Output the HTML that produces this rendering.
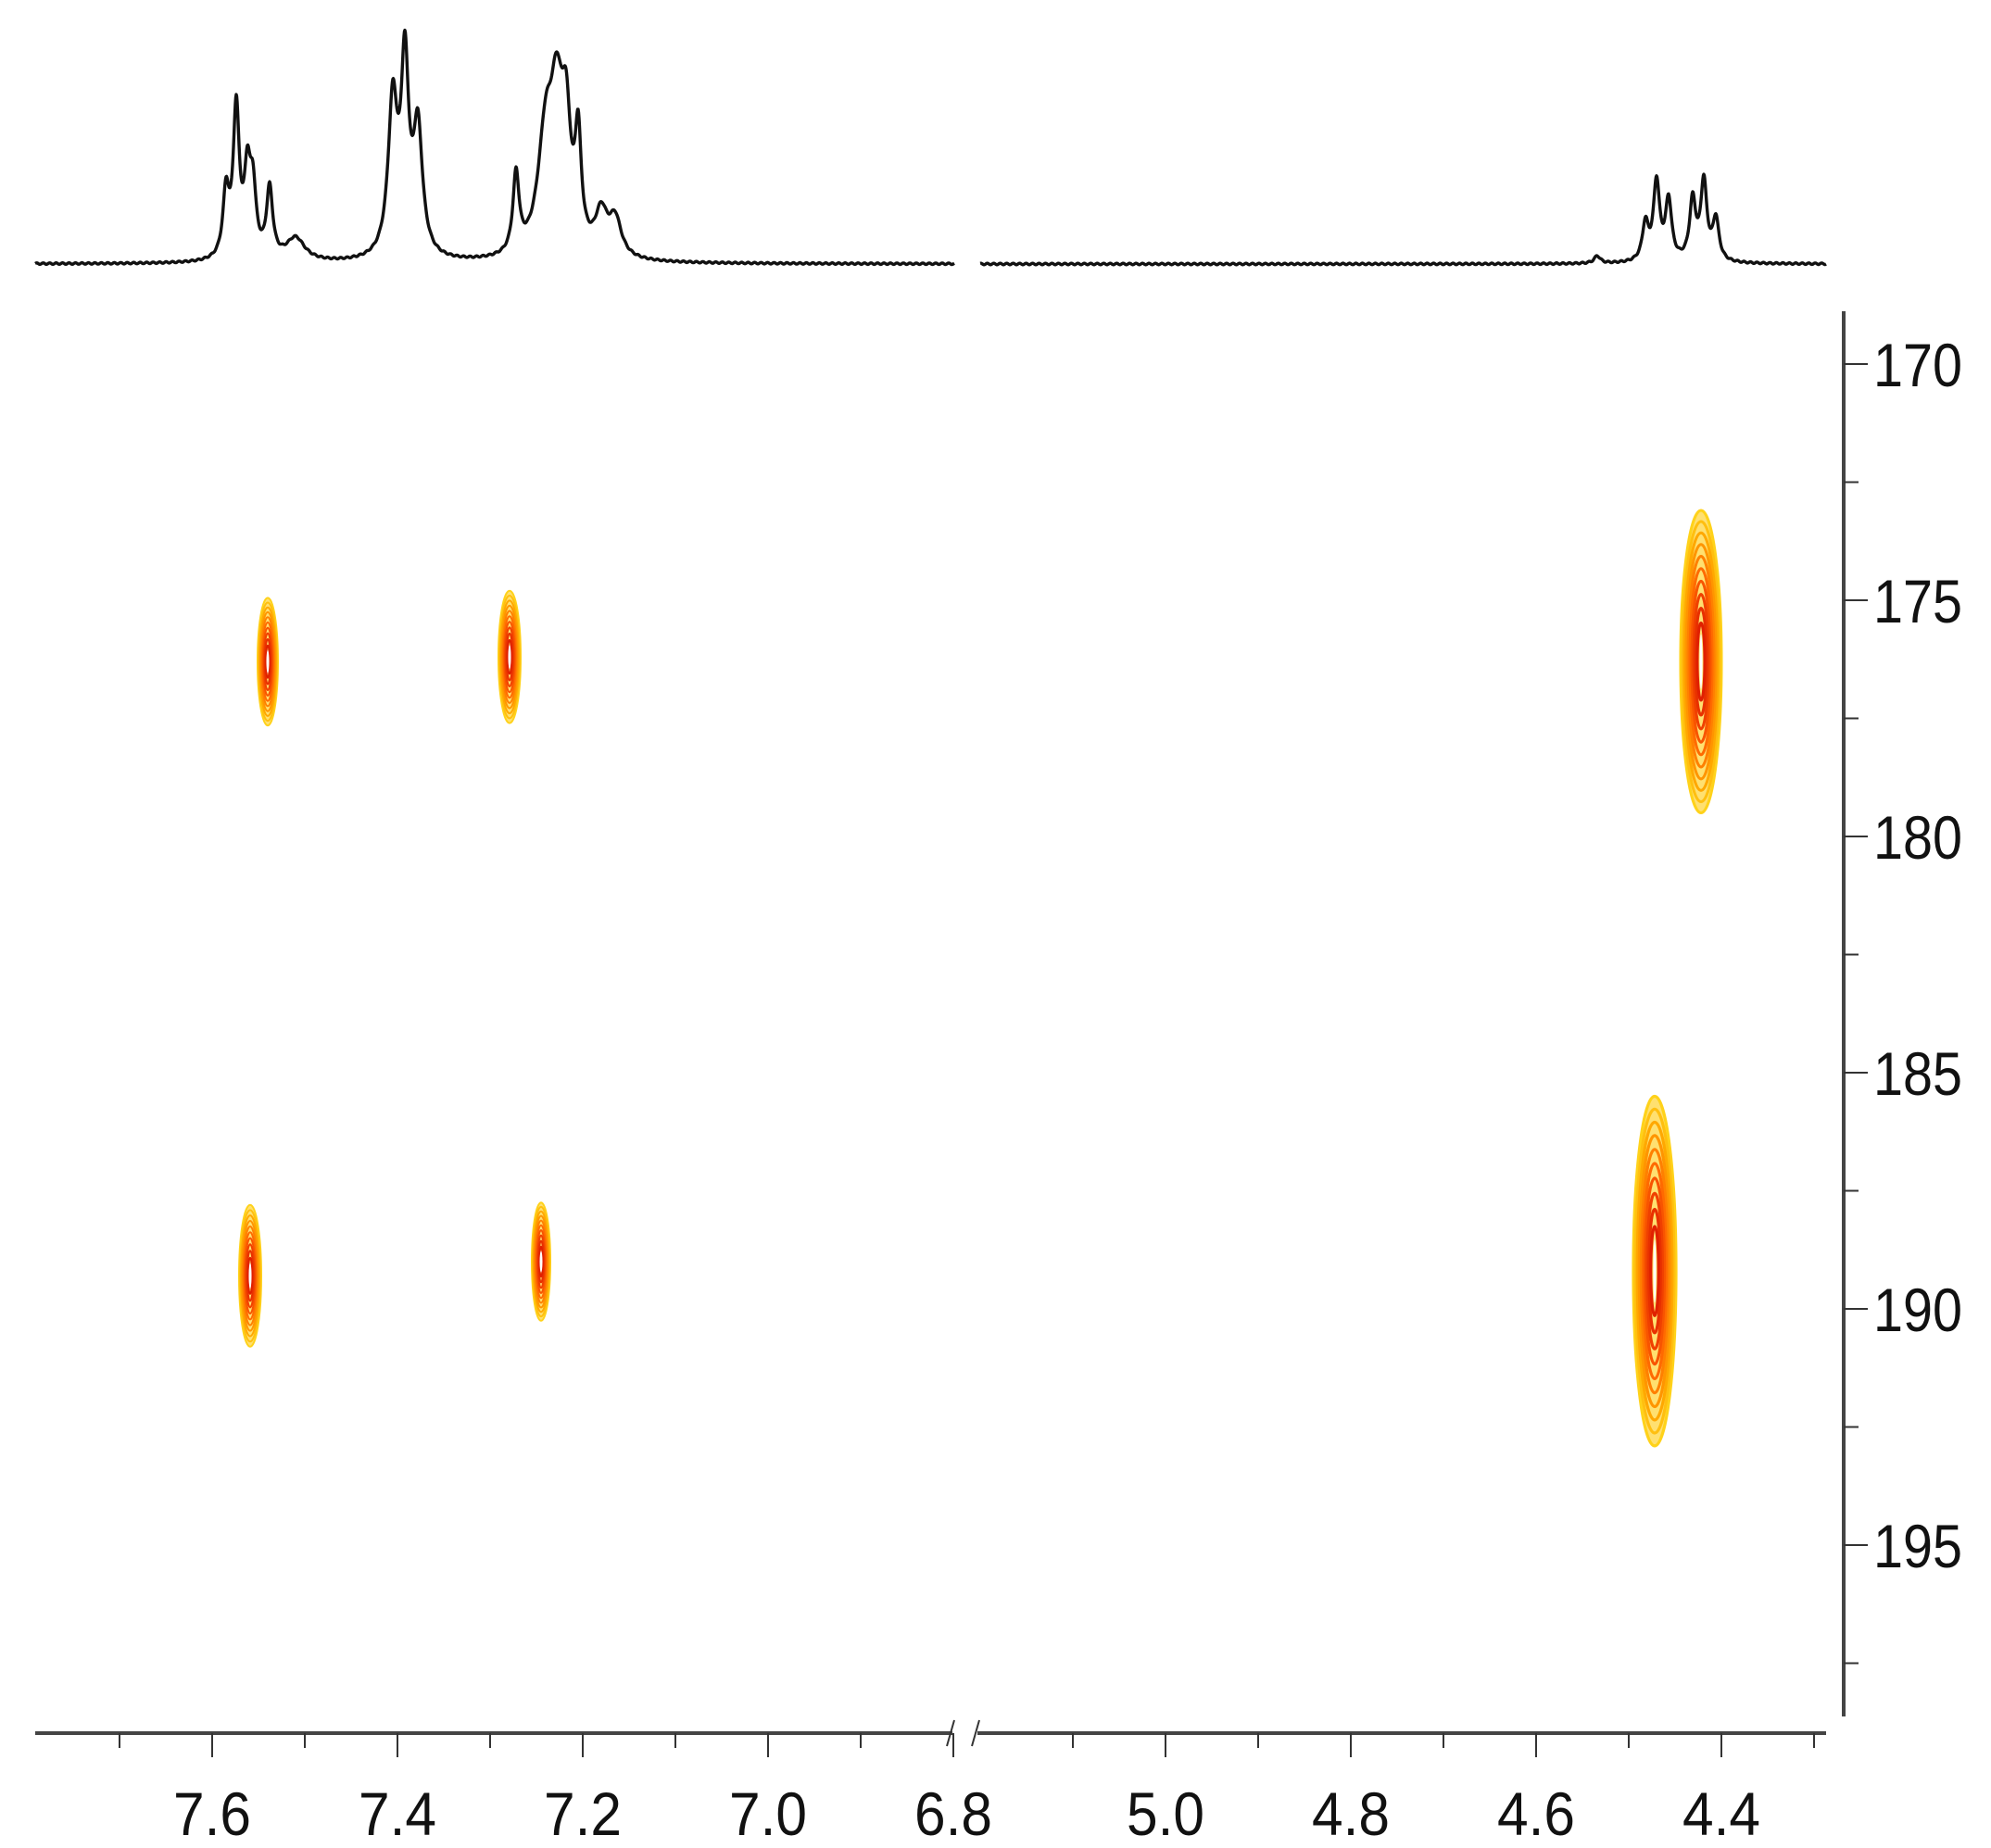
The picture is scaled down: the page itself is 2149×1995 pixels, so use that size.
<!DOCTYPE html>
<html><head><meta charset="utf-8"><style>
html,body{margin:0;padding:0;background:#fff;}
svg{display:block;}
text{font-family:"Liberation Sans",sans-serif;fill:#111;}
</style></head>
<body>
<svg id="chart" width="2149" height="1995" viewBox="0 0 2149 1995" xmlns="http://www.w3.org/2000/svg">
<g id="spec"></g>
<g id="contours"></g>
<g id="xaxis"></g>
<g id="yaxis"></g>
</svg>
<script>
// 1H spectrum lines (ppm, height px, half-width ppm)
const specPpm = [7.585,7.574,7.562,7.556,7.538,7.51,7.405,7.392,7.378,7.272,7.24,7.228,7.218,7.205,7.18,7.165,4.534,4.482,4.470,4.457,4.431,4.419,4.406];
const specHeight = [70,160,85,70,75,25,165,200,135,85,125,140,120,115,45,40,8,40,85,65,65,85,45];
const specWidth = [0.004,0.004,0.004,0.004,0.004,0.012,0.006,0.005,0.006,0.004,0.01,0.008,0.006,0.004,0.008,0.008,0.004,0.004,0.004,0.004,0.004,0.004,0.004];
// cross peaks: 1H ppm, 13C ppm, half-spans
const peakH = [7.54,7.279,4.422,7.559,7.245,4.472];
const peakC = [176.3,176.2,176.3,189.3,189.0,189.2];
const peakSpanH = [0.011,0.012,0.022,0.012,0.010,0.023];
const peakSpanC = [1.35,1.4,3.2,1.5,1.25,3.7];
const levelColors = ["#ffd21a","#ffbf10","#ffa800","#ff9500","#ff8000","#ff6a00","#f85400","#f04000","#e83000","#e02000"];
const xTicksLeft = [7.6,7.4,7.2,7.0,6.8];
const xTicksRight = [5.0,4.8,4.6,4.4];
const yTicks = [170,175,180,185,190,195];

const NS="http://www.w3.org/2000/svg";
function mk(tag,attrs,parent){const e=document.createElementNS(NS,tag);for(const k in attrs)e.setAttribute(k,attrs[k]);parent.appendChild(e);return e;}
function xPos(ppm){return ppm>=6.0 ? 229+(7.6-ppm)*1000 : 1258+(5.0-ppm)*1000;}
function yPos(c){return 393+(c-170)*51;}
const baseY=285;
function specAt(p){let s=0;for(let i=0;i<specPpm.length;i++){const d=(p-specPpm[i])/specWidth[i];s+=specHeight[i]/(1+d*d);}return s;}

const spec=document.getElementById('spec');
[[7.791,6.799],[5.2,4.287]].forEach((r,ri)=>{
  let d="";
  for(let p=r[0];p>=r[1];p-=0.0005){const x=xPos(p),y=baseY-specAt(p)+Math.sin(p*900)*0.8;d+=(d?"L":"M")+x.toFixed(1)+","+y.toFixed(1);}
  const path=mk('path',{d:d,fill:'none',stroke:'#111','stroke-width':3.4,'stroke-linejoin':'round'},spec);
  
  
});

const cont=document.getElementById('contours');
for(let i=0;i<peakH.length;i++){
  const g=mk('g',{},cont);
  
  
  const cx=xPos(peakH[i]),cy=yPos(peakC[i]);
  const rx=peakSpanH[i]*1000,ry=peakSpanC[i]*51;
  const n=levelColors.length;
  for(let k=0;k<n;k++){
    const f=1-k/(n+1);
    mk('ellipse',{cx:cx,cy:cy,rx:(rx*f).toFixed(1),ry:(ry*Math.pow(f,0.8)).toFixed(1),fill:k===0?'#ffe070':'none',stroke:levelColors[k],'stroke-width':Math.max(2,rx*0.14)},g);
  }
  mk('ellipse',{cx:cx,cy:cy,rx:1.5,ry:ry*0.18,fill:'#fff'},g);
}

const xa=document.getElementById('xaxis');
const axisY=1871;
let l1=mk('line',{x1:38,y1:axisY,x2:1028,y2:axisY,stroke:'#444','stroke-width':4},xa);


let l2=mk('line',{x1:1055,y1:axisY,x2:1971,y2:axisY,stroke:'#444','stroke-width':4},xa);


mk('line',{x1:1022,y1:axisY+14,x2:1030,y2:axisY-14,stroke:'#333','stroke-width':2},xa);
mk('line',{x1:1049,y1:axisY+14,x2:1057,y2:axisY-14,stroke:'#333','stroke-width':2},xa);
for(let v=7.7;v>=6.79;v-=0.1){const x=xPos(v);mk('line',{x1:x,y1:axisY,x2:x,y2:axisY+(Math.abs(Math.round(v*10)%2)===0?26:16),stroke:'#333','stroke-width':2},xa);}
for(let v=5.1;v>=4.29;v-=0.1){const x=xPos(v);mk('line',{x1:x,y1:axisY,x2:x,y2:axisY+(Math.abs(Math.round(v*10)%2)===0?26:16),stroke:'#333','stroke-width':2},xa);}
xTicksLeft.concat(xTicksRight).forEach(v=>{
  const t=mk('text',{x:xPos(v),y:1981,'font-size':66,'text-anchor':'middle',textLength:84,lengthAdjust:'spacingAndGlyphs'},xa);
  t.textContent=v.toFixed(1);
  
  
});

const ya=document.getElementById('yaxis');
let yl=mk('line',{x1:1990,y1:336,x2:1990,y2:1853,stroke:'#444','stroke-width':4},ya);


for(let v=170;v<=197.5;v+=2.5){const y=yPos(v);mk('line',{x1:1990,y1:y,x2:(v%5===0)?2016:2006,y2:y,stroke:'#333','stroke-width':2},ya);}
yTicks.forEach(v=>{
  const t=mk('text',{x:2022,y:yPos(v)+24,'font-size':66,textLength:96,lengthAdjust:'spacingAndGlyphs'},ya);
  t.textContent=String(v);
  
  
});
</script>
</body></html>
